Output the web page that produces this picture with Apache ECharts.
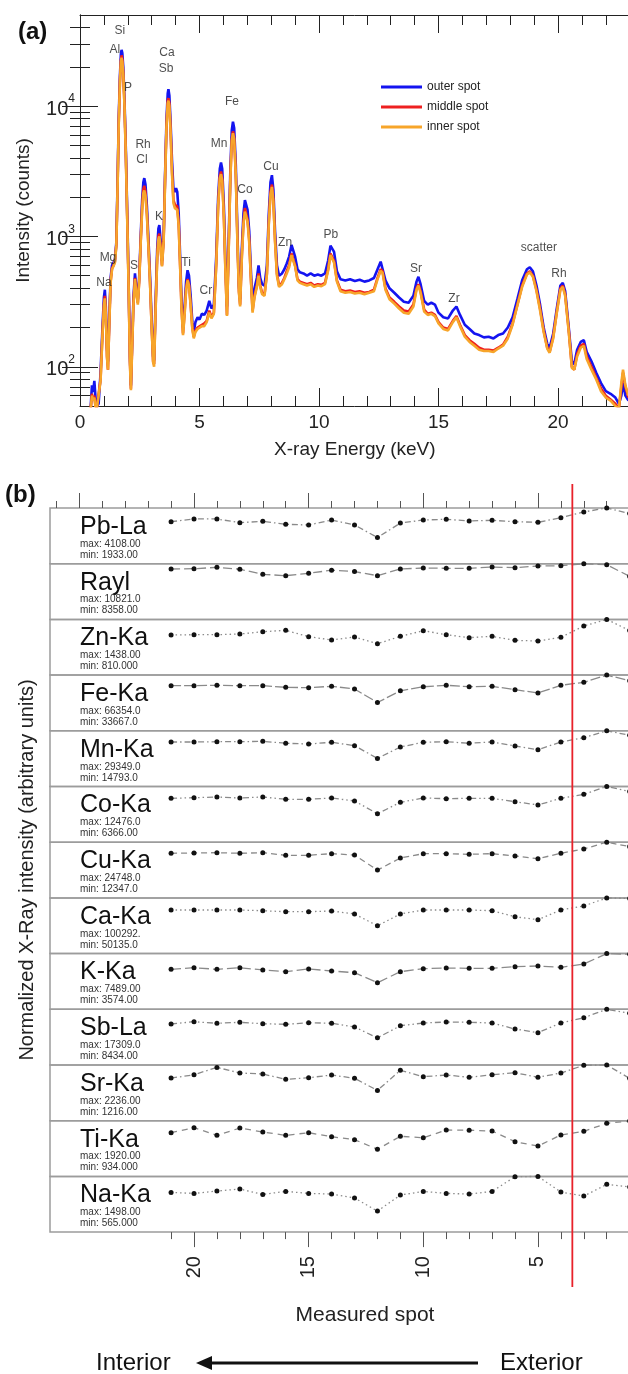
<!DOCTYPE html>
<html>
<head>
<meta charset="utf-8">
<script src="https://cdn.jsdelivr.net/npm/echarts@6/dist/echarts.min.js"></script>
<style>
  html, body { margin: 0; padding: 0; background: #fff; }
  #chart { width: 628px; height: 1374px; }
</style>
</head>
<body>
<div id="chart"></div>
<script>
/* ---------------- panel (a): XRF spectra ---------------- */
const energy = [
  0.45, 0.50, 0.55, 0.60, 0.65, 0.70, 0.78, 0.86, 0.94, 1.00,
  1.04, 1.08, 1.13, 1.17, 1.22, 1.28, 1.34, 1.40, 1.46, 1.52,
  1.57, 1.62, 1.67, 1.71, 1.74, 1.77, 1.81, 1.86, 1.92, 1.98,
  2.04, 2.09, 2.13, 2.18, 2.24, 2.30, 2.36, 2.42, 2.48, 2.54,
  2.60, 2.65, 2.69, 2.74, 2.80, 2.87, 2.94, 3.00, 3.06, 3.10,
  3.16, 3.23, 3.28, 3.32, 3.37, 3.43, 3.50, 3.56, 3.62, 3.67,
  3.70, 3.74, 3.79, 3.85, 3.91, 3.97, 4.02, 4.07, 4.13, 4.19,
  4.25, 4.31, 4.37, 4.44, 4.50, 4.56, 4.63, 4.70, 4.76, 4.83,
  4.92, 5.00, 5.10, 5.20, 5.30, 5.41, 5.50, 5.60, 5.70, 5.78,
  5.85, 5.90, 5.95, 6.02, 6.09, 6.15, 6.22, 6.29, 6.35, 6.40,
  6.45, 6.52, 6.59, 6.65, 6.70, 6.77, 6.84, 6.90, 6.95, 7.01,
  7.08, 7.15, 7.22, 7.30, 7.40, 7.47, 7.54, 7.62, 7.72, 7.82,
  7.90, 7.97, 8.03, 8.09, 8.16, 8.24, 8.33, 8.45, 8.55, 8.65,
  8.75, 8.85, 8.92, 9.00, 9.10, 9.20, 9.35, 9.50, 9.65, 9.80,
  9.95, 10.10, 10.25, 10.38, 10.48, 10.55, 10.63, 10.75, 10.90, 11.10,
  11.30, 11.50, 11.70, 11.90, 12.10, 12.30, 12.45, 12.58, 12.66, 12.78,
  12.95, 13.15, 13.35, 13.55, 13.75, 13.95, 14.08, 14.16, 14.25, 14.40,
  14.55, 14.70, 14.85, 15.00, 15.20, 15.40, 15.60, 15.75, 15.90, 16.10,
  16.30, 16.50, 16.70, 16.90, 17.10, 17.30, 17.50, 17.70, 17.90, 18.10,
  18.30, 18.50, 18.70, 18.82, 18.95, 19.10, 19.25, 19.40, 19.55, 19.65,
  19.80, 19.95, 20.10, 20.20, 20.30, 20.45, 20.58, 20.68, 20.80, 20.95,
  21.08, 21.20, 21.40, 21.60, 21.80, 22.00, 22.20, 22.40, 22.55, 22.65,
  22.72, 22.82, 22.95
];
const outerSpot = [
  50, 72, 64, 78, 58, 50, 52, 90, 200, 340,
  390, 290, 140, 110, 220, 480, 600, 620, 660, 900,
  2500, 8000, 17000, 25000, 27000, 25500, 20000, 11500, 4500, 1400,
  400, 120, 72, 150, 350, 520, 400, 330, 500, 1000,
  1900, 2600, 2800, 2500, 1700, 900, 450, 220, 120, 112,
  300, 800, 1150, 1220, 950, 650, 1000, 3000, 8000, 12500,
  13500, 12000, 7500, 3800, 2300, 2200, 2350, 2200, 1500, 700,
  320, 200, 280, 450, 550, 500, 350, 220, 185, 220,
  240, 230, 255, 250, 270, 320, 280, 300, 700, 2000,
  3300, 3700, 3300, 1700, 600, 290, 900, 3200, 6500, 7600,
  6800, 3500, 1000, 420, 330, 800, 1500, 1900, 1950, 1600,
  1100, 550, 300, 400, 480, 600, 480, 430, 420, 600,
  1500, 2600, 2950, 2300, 1100, 600, 500, 520, 560, 620,
  700, 860, 880, 700, 560, 530, 520, 500, 520, 500,
  510, 500, 520, 650, 850, 880, 760, 540, 470, 460,
  470, 455, 465, 450, 460, 480, 560, 640, 620, 460,
  400, 370, 340, 315, 310, 350, 450, 490, 430, 320,
  300, 310, 300, 260, 240, 235, 270, 290, 250, 210,
  195, 180, 175, 168, 170, 165, 175, 180, 200, 240,
  330, 460, 560, 580, 540, 420, 300, 200, 150, 140,
  180, 280, 420, 440, 380, 200, 110, 105, 135, 155,
  160, 130, 110, 90, 75, 65, 62, 58, 52, 60,
  75, 60, 55
];
const middleSpot = [
  48, 62, 56, 60, 50, 48, 48, 80, 180, 300,
  350, 260, 120, 95, 200, 450, 570, 600, 640, 860,
  2300, 7400, 15500, 22500, 24500, 23000, 18000, 10500, 4100, 1300,
  370, 110, 68, 140, 320, 480, 370, 310, 470, 920,
  1700, 2300, 2450, 2200, 1500, 800, 400, 200, 110, 105,
  270, 700, 1000, 1050, 850, 600, 950, 2800, 7200, 11000,
  11500, 10500, 6600, 3200, 1900, 1750, 1800, 1700, 1250, 600,
  280, 180, 250, 400, 470, 430, 300, 200, 170, 190,
  200, 195, 210, 215, 225, 270, 240, 260, 620, 1750,
  2900, 3150, 2800, 1450, 520, 250, 800, 2800, 5600, 6400,
  5800, 3000, 880, 380, 300, 700, 1300, 1650, 1600, 1350,
  950, 480, 270, 350, 420, 520, 420, 370, 360, 520,
  1300, 2200, 2500, 1950, 950, 520, 420, 440, 480, 540,
  600, 740, 760, 600, 470, 450, 440, 430, 440, 420,
  430, 425, 440, 560, 740, 760, 650, 460, 390, 380,
  385, 375, 380, 370, 375, 390, 480, 560, 540, 400,
  340, 315, 290, 270, 265, 300, 400, 430, 380, 275,
  255, 260, 250, 220, 200, 195, 225, 245, 210, 175,
  160, 150, 140, 135, 135, 133, 140, 148, 170, 215,
  300, 420, 520, 540, 500, 390, 280, 190, 140, 130,
  170, 265, 400, 420, 360, 190, 100, 95, 125, 145,
  150, 120, 100, 82, 68, 60, 56, 52, 48, 70,
  90, 70, 58
];
const innerSpot = [
  48, 60, 55, 58, 49, 47, 48, 78, 175, 290,
  335, 250, 118, 95, 195, 440, 560, 590, 630, 850,
  2250, 7200, 15000, 22000, 23500, 22000, 17500, 10200, 4000, 1250,
  360, 105, 66, 135, 310, 470, 360, 300, 460, 900,
  1600, 2150, 2250, 2050, 1450, 780, 390, 195, 108, 100,
  260, 680, 950, 1000, 820, 590, 920, 2700, 7000, 10500,
  11000, 10000, 6300, 3000, 1800, 1650, 1700, 1600, 1200, 580,
  270, 175, 240, 390, 460, 420, 295, 195, 165, 185,
  195, 190, 205, 205, 220, 260, 235, 255, 600, 1700,
  2800, 3000, 2700, 1400, 500, 245, 780, 2700, 5400, 6200,
  5600, 2900, 850, 370, 290, 680, 1250, 1550, 1500, 1300,
  900, 470, 260, 340, 410, 500, 410, 360, 350, 510,
  1250, 2100, 2400, 1850, 920, 500, 410, 430, 470, 520,
  580, 720, 740, 590, 460, 440, 430, 420, 430, 410,
  420, 415, 430, 545, 720, 740, 630, 450, 380, 370,
  375, 365, 370, 360, 370, 380, 470, 545, 525, 390,
  330, 305, 280, 260, 255, 290, 390, 420, 370, 265,
  250, 255, 245, 215, 195, 190, 220, 240, 205, 170,
  155, 145, 135, 132, 132, 130, 138, 145, 165, 210,
  295, 410, 510, 530, 490, 380, 270, 185, 138, 128,
  165, 260, 390, 410, 350, 185, 98, 95, 120, 140,
  145, 115, 95, 80, 65, 58, 55, 50, 48, 75,
  95, 72, 60
];
const peakNames  = ['Si', 'Al', 'P', 'Ca', 'Sb', 'Rh', 'Cl', 'K', 'Mn', 'Fe', 'Co', 'Cu',
                    'Zn', 'Pb', 'Mg', 'Na', 'S', 'Ti', 'Cr', 'Sr', 'Zr', 'scatter', 'Rh'];
const peakEnergy = [1.67, 1.46, 2.01, 3.64, 3.60, 2.64, 2.59, 3.31, 5.82, 6.36, 6.90, 7.99,
                    8.58, 10.50, 1.17, 1.00, 2.26, 4.44, 5.27, 14.06, 15.65, 19.20, 20.04];
const peakCounts = [37760, 26970, 13740, 25590, 19270, 5100, 3910, 1425, 5190, 10900, 2300, 3400,
                    900, 1036, 689, 443, 599, 632, 385, 567, 334, 823, 519];
const yMajor = [100, 1000, 10000];
const yMinor = [60, 70, 80, 90, 200, 300, 400, 500, 600, 700, 800, 900,
                2000, 3000, 4000, 5000, 6000, 7000, 8000, 9000, 20000, 30000, 40000];
const xMajor = [0, 5, 10, 15, 20];
const xMinor = [1, 2, 3, 4, 6, 7, 8, 9, 11, 12, 13, 14, 16, 17, 18, 19, 21, 22];

/* ---------------- panel (b): element profiles ---------------- */
const spots = [21, 20, 19, 18, 17, 16, 15, 14, 13, 12, 11, 10, 9, 8, 7, 6, 5, 4, 3, 2, 1];
const elementNames = ['Pb-La', 'Rayl', 'Zn-Ka', 'Fe-Ka', 'Mn-Ka', 'Co-Ka', 'Cu-Ka',
                      'Ca-Ka', 'K-Ka', 'Sb-La', 'Sr-Ka', 'Ti-Ka', 'Na-Ka'];
const maxLabels = ['4108.00', '10821.0', '1438.00', '66354.0', '29349.0', '12476.0', '24748.0',
                   '100292.', '7489.00', '17309.0', '2236.00', '1920.00', '1498.00'];
const minLabels = ['1933.00', '8358.00', '810.000', '33667.0', '14793.0', '6366.00', '12347.0',
                   '50135.0', '3574.00', '8434.00', '1216.00', '934.000', '565.000'];
const maxValues = [4108, 10821, 1438, 66354, 29349, 12476, 24748, 100292, 7489, 17309, 2236, 1920, 1498];

const pbLa = [3097, 3299, 3299, 3024, 3126, 2904, 2855, 3225, 2855, 1933, 2995,
              3225, 3274, 3151, 3200, 3097, 3052, 3393, 3816, 4108, 3700];
const rayl = [9793, 9847, 10118, 9739, 8765, 8494, 8960, 9555, 9284, 8494, 9793,
              9988, 9923, 9923, 10183, 10042, 10377, 10432, 10821, 10626, 8358];
const znKa = [1035, 1043, 1043, 1061, 1120, 1156, 991, 906, 984, 810, 1001,
              1146, 1043, 966, 1001, 897, 880, 975, 1268, 1438, 1150];
const feKa = [53747, 53747, 54211, 53747, 53747, 51822, 51358, 53017, 49832, 33667, 47642,
              52420, 54211, 52552, 53017, 48969, 45054, 54211, 57794, 66354, 59700];
const mnKa = [23450, 23450, 23597, 23597, 23802, 22775, 22393, 23303, 21513, 14793, 20808,
              23303, 23597, 22775, 23450, 21337, 19400, 23450, 25710, 29349, 27000];
const coKa = [9831, 9968, 10118, 9906, 10118, 9607, 9607, 9906, 9232, 6366, 8933,
              9906, 9744, 9831, 9831, 9070, 8334, 9831, 10729, 12476, 11350];
const cuKa = [19823, 19947, 20096, 19823, 20096, 18932, 18932, 19650, 19056, 12347, 17720,
              19650, 19650, 19378, 19650, 18611, 17423, 19823, 21729, 24748, 22770];
const caKa = [78529, 78529, 78529, 78529, 77225, 75420, 75420, 76723, 71308, 50135, 71308,
              78529, 78529, 78529, 77225, 66393, 61078, 78529, 85750, 100292, 99300];
const kKa  = [5377, 5594, 5377, 5594, 5287, 5055, 5422, 5152, 4920, 3574, 5055,
              5459, 5549, 5512, 5512, 5729, 5819, 5647, 6089, 7489, 7400];
const sbLa = [12739, 13449, 12964, 13259, 12826, 12653, 13138, 12964, 11805, 8434, 12203,
              13051, 13363, 13276, 13051, 11182, 10039, 13051, 14695, 17309, 16100];
const srKa = [1711, 1845, 2140, 1914, 1874, 1661, 1726, 1834, 1702, 1216, 2024,
              1766, 1834, 1742, 1845, 1927, 1742, 1914, 2225, 2236, 1700];
const tiKa = [1507, 1678, 1415, 1668, 1530, 1415, 1507, 1369, 1265, 934, 1382,
              1334, 1599, 1590, 1565, 1196, 1048, 1427, 1555, 1830, 1910];
const naKa = [1068, 1041, 1104, 1158, 1014, 1095, 1041, 1023, 917, 565, 996,
              1095, 1041, 1023, 1095, 1490, 1498, 1077, 969, 1284, 1213];
const rowValues = [pbLa, rayl, znKa, feKa, mnKa, coKa, cuKa, caKa, kKa, sbLa, srKa, tiKa, naKa];

const spotMajor = [5, 10, 15, 20, 25];
const spotMinorTop = [1, 2, 3, 4, 6, 7, 8, 9, 11, 12, 13, 14, 16, 17, 18, 19, 21, 22, 23, 24, 26];
const spotMinorBottom = [1, 2, 3, 4, 6, 7, 8, 9, 11, 12, 13, 14, 16, 17, 18, 19, 21];
const spotLabels = [5, 10, 15, 20];
const boundarySpot = 3.5;

/* ---------------- layout / style ---------------- */
const FONT = '"Liberation Sans", Arial, Helvetica, sans-serif';
const INK = '#222';
const BLUE = '#1414f0';
const RED = '#ee2020';
const ORANGE = '#f7a52a';
const ROW_TOP = 508;
const ROW_H = 55.7;
const SPOT_MAX = 26.28;
const dashStyles = [
  [6, 3, 1.5, 3], [9, 4], [1.5, 3], [10, 3], [6, 3, 1.5, 3], [6, 3, 1.5, 3, 1.5, 3], [6, 4],
  [1.5, 3], [10, 4], [6, 3, 1.5, 3, 1.5, 3], [6, 3, 1.5, 3], [6, 5], [1.5, 3]
];

const chart = echarts.init(document.getElementById('chart'), null, { renderer: 'canvas' });

const tickLine = { color: INK, width: 1 };
const grids = [{ left: 80, top: 15, width: 549.7, height: 391, show: false, outerBoundsMode: 'none' }];
const xAxes = [
  { gridIndex: 0, type: 'value', min: 0, max: 23, position: 'bottom',
    axisLine: { lineStyle: tickLine }, splitLine: { show: false },
    axisTick: { inside: true, length: 18, customValues: xMajor, lineStyle: tickLine },
    axisLabel: { customValues: xMajor, fontSize: 19, color: INK, fontFamily: FONT, margin: 7 },
    name: 'X-ray Energy (keV)', nameLocation: 'middle', nameGap: 34,
    nameTextStyle: { fontSize: 19, color: INK, fontFamily: FONT } },
  { gridIndex: 0, type: 'value', min: 0, max: 23, position: 'bottom',
    axisLine: { show: false }, splitLine: { show: false }, axisLabel: { show: false },
    axisTick: { inside: true, length: 10, customValues: xMinor, lineStyle: tickLine } },
  { gridIndex: 0, type: 'value', min: 0, max: 23, position: 'top',
    axisLine: { lineStyle: tickLine }, splitLine: { show: false }, axisLabel: { show: false },
    axisTick: { inside: true, length: 18, customValues: xMajor, lineStyle: tickLine } },
  { gridIndex: 0, type: 'value', min: 0, max: 23, position: 'top',
    axisLine: { show: false }, splitLine: { show: false }, axisLabel: { show: false },
    axisTick: { inside: true, length: 10, customValues: xMinor, lineStyle: tickLine } }
];
const yAxes = [
  { gridIndex: 0, type: 'log', logBase: 10, min: 50, max: 50000, position: 'left',
    axisLine: { show: true, lineStyle: tickLine }, splitLine: { show: false },
    axisTick: { show: true, inside: true, length: 18, customValues: yMajor, lineStyle: tickLine },
    axisLabel: {
      customValues: yMajor, margin: 5, fontFamily: FONT,
      formatter: v => '{b|10}{e|' + Math.round(Math.log10(v)) + '}',
      rich: {
        b: { fontSize: 20, color: INK, fontFamily: FONT, lineHeight: 26, verticalAlign: 'bottom' },
        e: { fontSize: 12, color: INK, fontFamily: FONT, lineHeight: 12, verticalAlign: 'top' }
      }
    },
    name: 'Intensity (counts)', nameLocation: 'middle', nameGap: 47,
    nameTextStyle: { fontSize: 19, color: INK, fontFamily: FONT } },
  { gridIndex: 0, type: 'log', logBase: 10, min: 50, max: 50000, position: 'left',
    axisLine: { show: false }, splitLine: { show: false }, axisLabel: { show: false },
    axisTick: { show: true, inside: true, length: 10, customValues: yMinor, lineStyle: tickLine } },
  { gridIndex: 0, type: 'log', logBase: 10, min: 50, max: 50000, position: 'right',
    axisLine: { show: true, lineStyle: tickLine }, splitLine: { show: false }, axisLabel: { show: false },
    axisTick: { show: true, inside: true, length: 18, customValues: yMajor, lineStyle: tickLine } },
  { gridIndex: 0, type: 'log', logBase: 10, min: 50, max: 50000, position: 'right',
    axisLine: { show: false }, splitLine: { show: false }, axisLabel: { show: false },
    axisTick: { show: true, inside: true, length: 10, customValues: yMinor, lineStyle: tickLine } }
];

const spectrum = (name, vals, color, z) => ({
  type: 'line', name, xAxisIndex: 0, yAxisIndex: 0, z,
  data: energy.map((e, i) => [e, vals[i]]),
  symbol: 'none', color, lineStyle: { color, width: 2.6 }, clip: true
});

const series = [
  spectrum('outer spot', outerSpot, BLUE, 2),
  spectrum('middle spot', middleSpot, RED, 3),
  spectrum('inner spot', innerSpot, ORANGE, 4),
  { type: 'scatter', xAxisIndex: 0, yAxisIndex: 0, z: 6, silent: true,
    symbolSize: 0, data: peakEnergy.map((e, i) => [e, peakCounts[i]]),
    label: { show: true, position: 'inside', formatter: p => peakNames[p.dataIndex],
             fontSize: 12, color: INK, fontFamily: FONT } }
];

const graphics = [
  { type: 'text', left: 18, top: 20, style: { text: '(a)', font: 'bold 24px ' + FONT, fill: '#111' } },
  { type: 'text', left: 5, top: 483, style: { text: '(b)', font: 'bold 24px ' + FONT, fill: '#111' } },
  { type: 'text', x: 27, y: 870, rotation: Math.PI / 2,
    style: { text: 'Normalized X-Ray intensity (arbitrary units)', font: '20px ' + FONT, fill: INK,
             align: 'center', verticalAlign: 'middle' } },
  { type: 'text', x: 365, y: 1315,
    style: { text: 'Measured spot', font: '21px ' + FONT, fill: INK, align: 'center', verticalAlign: 'middle' } },
  { type: 'text', x: 96, y: 1363,
    style: { text: 'Interior', font: '24px ' + FONT, fill: '#111', align: 'left', verticalAlign: 'middle' } },
  { type: 'text', x: 500, y: 1363,
    style: { text: 'Exterior', font: '24px ' + FONT, fill: '#111', align: 'left', verticalAlign: 'middle' } },
  { type: 'line', shape: { x1: 208, y1: 1363, x2: 478, y2: 1363 }, style: { stroke: '#111', lineWidth: 3 } },
  { type: 'polygon', shape: { points: [[196, 1363], [212, 1356], [212, 1370]] }, style: { fill: '#111' } }
];

elementNames.forEach((name, r) => {
  const g = r + 1;
  const top = ROW_TOP + ROW_H * r;
  grids.push({ left: 50, top, width: 602.6, height: ROW_H, show: true, outerBoundsMode: 'none',
               borderColor: '#9c9c9c', borderWidth: 1.5, backgroundColor: 'transparent' });
  const xi = xAxes.length;
  xAxes.push({ gridIndex: g, type: 'value', min: 0, max: SPOT_MAX, inverse: true, show: false });
  const yi = yAxes.length;
  yAxes.push({ gridIndex: g, type: 'value', min: 0, max: maxValues[r],
               axisLine: { show: false }, splitLine: { show: false }, axisLabel: { show: false },
               axisTick: { show: true, inside: true, length: 11, customValues: [0],
                           lineStyle: { color: '#555', width: 1.2 } } });
  series.push({
    type: 'line', xAxisIndex: xi, yAxisIndex: yi, clip: false, z: 5,
    data: spots.map((s, i) => [s, rowValues[r][i]]),
    symbol: 'circle', symbolSize: 5, itemStyle: { color: '#111' },
    lineStyle: { color: '#8a8a8a', width: 1.3, type: dashStyles[r] }
  });
  graphics.push(
    { type: 'text', x: 80, y: top + 19,
      style: { text: name, font: '25px ' + FONT, fill: '#111', verticalAlign: 'middle' } },
    { type: 'text', x: 80, y: top + 36,
      style: { text: 'max: ' + maxLabels[r], font: '10px ' + FONT, fill: '#333', verticalAlign: 'middle' } },
    { type: 'text', x: 80, y: top + 47,
      style: { text: 'min: ' + minLabels[r], font: '10px ' + FONT, fill: '#333', verticalAlign: 'middle' } }
  );
  if (r === 0) {
    xAxes.push(
      { gridIndex: g, type: 'value', min: 0, max: SPOT_MAX, inverse: true, position: 'top',
        axisLine: { show: false }, splitLine: { show: false }, axisLabel: { show: false },
        axisTick: { inside: false, length: 7, customValues: spotMinorTop, lineStyle: { color: '#555' } } },
      { gridIndex: g, type: 'value', min: 0, max: SPOT_MAX, inverse: true, position: 'top',
        axisLine: { show: false }, splitLine: { show: false }, axisLabel: { show: false },
        axisTick: { inside: false, length: 15, customValues: spotMajor, lineStyle: { color: '#555' } } }
    );
  }
  if (r === elementNames.length - 1) {
    xAxes.push(
      { gridIndex: g, type: 'value', min: 0, max: SPOT_MAX, inverse: true, position: 'bottom',
        axisLine: { show: false }, splitLine: { show: false }, axisLabel: { show: false },
        axisTick: { inside: false, length: 7, customValues: spotMinorBottom, lineStyle: { color: '#555' } } },
      { gridIndex: g, type: 'value', min: 0, max: SPOT_MAX, inverse: true, position: 'bottom',
        axisLine: { show: false }, splitLine: { show: false },
        axisTick: { inside: false, length: 15, customValues: spotLabels, lineStyle: { color: '#555' } },
        axisLabel: { customValues: spotLabels, rotate: 90, margin: 24, fontSize: 20,
                     color: INK, fontFamily: FONT } }
    );
  }
});

chart.setOption({
  animation: false,
  backgroundColor: '#fff',
  textStyle: { fontFamily: FONT },
  legend: {
    data: ['outer spot', 'middle spot', 'inner spot'], orient: 'vertical',
    left: 376, top: 76, itemWidth: 41, itemHeight: 3, itemGap: 8, icon: 'rect',
    textStyle: { fontSize: 12, color: INK, fontFamily: FONT }
  },
  grid: grids,
  xAxis: xAxes,
  yAxis: yAxes,
  series,
  graphic: { elements: graphics }
});

// boundary between exterior and interior spots, placed through the spot axis
const bx = chart.convertToPixel({ xAxisIndex: 4 }, boundarySpot);
chart.setOption({
  graphic: { elements: [
    { id: 'boundary', type: 'line', z: 10,
      shape: { x1: bx, y1: 484, x2: bx, y2: 1287 }, style: { stroke: '#e8212a', lineWidth: 1.8 } }
  ] }
});
</script>
</body>
</html>
